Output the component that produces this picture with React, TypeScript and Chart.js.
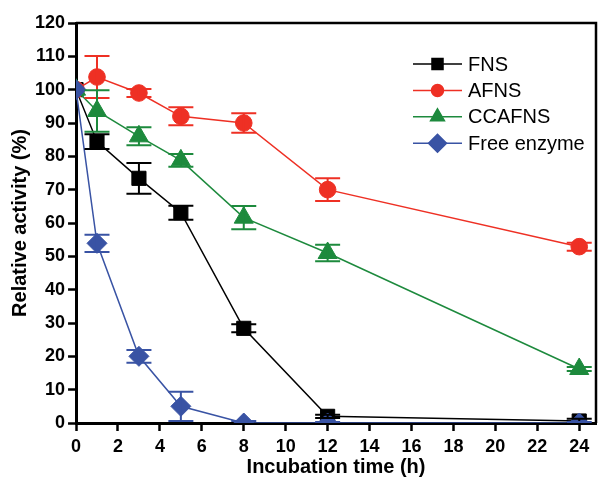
import React, { useEffect, useRef } from "react";
import { Chart, registerables } from "chart.js";
import * as helpers from "chart.js/helpers";

Chart.register(...registerables);

const times = [0, 1, 3, 5, 8, 12, 24];
const fns = [100, 84.4, 73.4, 63.1, 28.4, 2, 0.6];
const fnsErr = [0, 2.2, 4.6, 2.1, 1.2, 0.5, 0.7];
const afns = [100, 103.8, 99, 92, 90, 70, 52.9];
const afnsErr = [0, 6.3, 1.2, 2.7, 2.9, 3.4, 1.2];
const ccafns = [100, 93.6, 86, 78.8, 61.6, 51, 16.2];
const ccafnsErr = [0, 6.2, 2.7, 1.9, 3.5, 2.5, 0.6];
const freeEnzyme = [100, 53.9, 20, 5, 0, 0, 0];
const freeEnzymeErr = [0, 2.6, 1.9, 4.4, 0.6, 0.3, 0.3];
const seriesNames = ["FNS", "AFNS", "CCAFNS", "Free enzyme"];
const xTicks = [0, 2, 4, 6, 8, 10, 12, 14, 16, 18, 20, 22, 24];
const yTicks = [0, 10, 20, 30, 40, 50, 60, 70, 80, 90, 100, 110, 120];

const COLORS = ["#000000", "#ee3024", "#1d8a3d", "#3953a4"];
const STYLES = ["rect", "circle", "triangle", "rectRot"];
const RADII = [10, 8.3, 11, 10];
const LEGEND_RADII = [7.8, 6, 8, 9];

const errorBarPlugin = {
  id: "errorBars",
  afterDatasetsDraw(chart: any) {
    const { ctx, chartArea } = chart;
    const xs = chart.scales.x;
    const ys = chart.scales.y;
    ctx.save();
    ctx.beginPath();
    ctx.rect(chartArea.left, chartArea.top - 20, chartArea.right - chartArea.left, chartArea.bottom - chartArea.top + 20);
    ctx.clip();
    chart.data.datasets.forEach((ds: any) => {
      const errs = ds.errors as number[];
      ctx.strokeStyle = ds.borderColor;
      ctx.lineWidth = 2;
      ds.data.forEach((pt: any, i: number) => {
        const e = errs[i];
        if (!e) return;
        const px = xs.getPixelForValue(pt.x);
        const top = ys.getPixelForValue(pt.y + e);
        const bot = ys.getPixelForValue(pt.y - e);
        const hw = 12.5;
        ctx.beginPath();
        ctx.moveTo(px, top);
        ctx.lineTo(px, bot);
        ctx.moveTo(px - hw, top);
        ctx.lineTo(px + hw, top);
        ctx.moveTo(px - hw, bot);
        ctx.lineTo(px + hw, bot);
        ctx.stroke();
      });
    });
    ctx.restore();
  },
};

const framePlugin = {
  id: "frame",
  afterDraw(chart: any) {
    const { ctx, chartArea } = chart;
    ctx.save();
    ctx.strokeStyle = "#000";
    ctx.lineWidth = 2.5;
    ctx.beginPath();
    ctx.moveTo(chartArea.left, chartArea.top);
    ctx.lineTo(chartArea.right, chartArea.top);
    ctx.lineTo(chartArea.right, chartArea.bottom);
    ctx.stroke();
    ctx.restore();
  },
};

const legendPlugin = {
  id: "customLegend",
  afterDraw(chart: any) {
    const { ctx, chartArea } = chart;
    const x0 = chartArea.right - 183;
    const x1 = chartArea.right - 134;
    const mx = (x0 + x1) / 2;
    const tx = chartArea.right - 128;
    ctx.save();
    chart.data.datasets.forEach((ds: any, i: number) => {
      const y = chartArea.top + 41 + i * 26.4;
      ctx.strokeStyle = ds.borderColor;
      ctx.lineWidth = 1.5;
      ctx.beginPath();
      ctx.moveTo(x0, y);
      ctx.lineTo(x1, y);
      ctx.stroke();
      ctx.fillStyle = ds.borderColor;
      ctx.strokeStyle = ds.borderColor;
      helpers.drawPoint(
        ctx,
        { pointStyle: STYLES[i], radius: LEGEND_RADII[i], rotation: 0, borderWidth: 1 },
        mx,
        y
      );
      ctx.fillStyle = "#000";
      ctx.font = "20px 'Liberation Sans', Arial, sans-serif";
      ctx.textBaseline = "middle";
      ctx.textAlign = "left";
      ctx.fillText(ds.label, tx, y + 1);
    });
    ctx.restore();
  },
};

export default function App() {
  const ref = useRef<HTMLCanvasElement>(null);
  useEffect(() => {
    document.body.style.margin = "0";
    const seriesVals = [fns, afns, ccafns, freeEnzyme];
    const seriesErr = [fnsErr, afnsErr, ccafnsErr, freeEnzymeErr];
    const datasets = seriesNames.map((name, i) => ({
      label: name,
      data: times.map((t, j) => ({ x: t, y: seriesVals[i][j] })),
      errors: seriesErr[i],
      borderColor: COLORS[i],
      backgroundColor: COLORS[i],
      borderWidth: 1.5,
      pointStyle: STYLES[i],
      pointRadius: RADII[i],
      pointBorderWidth: 1,
      pointBackgroundColor: COLORS[i],
      pointBorderColor: COLORS[i],
      tension: 0,
      order: 3 - i,
    }));
    const tickFont = { family: "'Liberation Sans', Arial, sans-serif", size: 18, weight: "bold" as const };
    const xTickFont = { family: "'Liberation Sans', Arial, sans-serif", size: 18, weight: "bold" as const, lineHeight: 1.0 };
    const titleFont = { family: "'Liberation Sans', Arial, sans-serif", size: 20, weight: "bold" as const, lineHeight: 1.0 };
    const chart = new Chart(ref.current!, {
      type: "line",
      data: { datasets: datasets as any },
      options: {
        animation: false,
        responsive: false,
        layout: { autoPadding: false, padding: { top: 23, right: 4, left: 10, bottom: 0 } },
        plugins: { legend: { display: false }, tooltip: { enabled: false } },
        scales: {
          x: {
            type: "linear",
            min: 0,
            max: 24.8,
            afterBuildTicks: (s: any) => {
              s.ticks = xTicks.map((v) => ({ value: v }));
            },
            ticks: { font: xTickFont, color: "#000", padding: 7, maxRotation: 0, autoSkip: false },
            grid: { drawOnChartArea: false, drawTicks: true, tickLength: 8, tickWidth: 2.5, tickColor: "#000" },
            border: { width: 3, color: "#000" },
            title: { display: true, text: "Incubation time (h)", font: titleFont, color: "#000", padding: { top: -6, bottom: 0 } },
          },
          y: {
            type: "linear",
            min: 0,
            max: 120,
            afterBuildTicks: (s: any) => {
              s.ticks = yTicks.map((v) => ({ value: v }));
            },
            ticks: { font: tickFont, color: "#000", padding: 3, autoSkip: false },
            grid: { drawOnChartArea: false, drawTicks: true, tickLength: 8, tickWidth: 2.5, tickColor: "#000" },
            border: { width: 3, color: "#000" },
            title: { display: true, text: "Relative activity (%)", font: titleFont, color: "#000", padding: { top: 0, bottom: 2 } },
          },
        },
      },
      plugins: [errorBarPlugin, framePlugin, legendPlugin],
    });
    return () => chart.destroy();
  }, []);
  return (
    <div style={{ width: 600, height: 477 }}>
      <canvas ref={ref} width={600} height={477} />
    </div>
  );
}
